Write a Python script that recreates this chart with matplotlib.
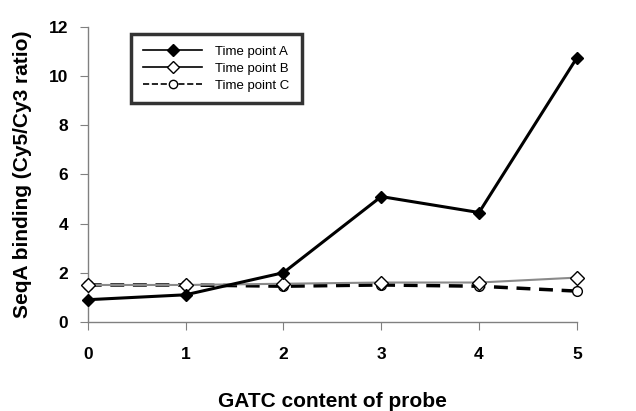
import matplotlib
matplotlib.use('Agg')
import matplotlib.pyplot as plt
from matplotlib.lines import Line2D

plt.rcParams['font.family'] = ['Liberation Sans', 'DejaVu Sans']

# data
gatc = [0, 1, 2, 3, 4, 5]
time_a = [0.9, 1.1, 2.0, 5.1, 4.45, 10.75]
time_b = [1.5, 1.5, 1.55, 1.6, 1.6, 1.8]
time_c = [1.5, 1.5, 1.45, 1.5, 1.45, 1.25]

fig = plt.figure(figsize=(6.36, 4.11), dpi=100)
ax = fig.add_axes([0.138, 0.217, 0.769, 0.717])

ax.plot(gatc, time_a, color='black', lw=2.2, marker='D', ms=6,
        mfc='black', mec='black', label='Time point A', zorder=4, clip_on=False)
ax.plot(gatc, time_b, color='#8a8a8a', lw=1.5, marker='D', ms=7,
        mfc='white', mec='black', mew=1.0, label='Time point B', zorder=3, clip_on=False)
ax.plot(gatc, time_c, color='black', lw=2.5, ls=(0, (4, 2.5)), marker='o', ms=7,
        mfc='white', mec='black', mew=1.0, label='Time point C', zorder=2, clip_on=False)

ax.set_xlim(0, 5)
ax.set_ylim(0, 12)
ax.set_xticks(gatc)
ax.set_yticks(range(0, 13, 2))
for s in ['top', 'right']:
    ax.spines[s].set_visible(False)
for s in ['left', 'bottom']:
    ax.spines[s].set_color('#808080')
    ax.spines[s].set_linewidth(1.0)
ax.tick_params(axis='both', colors='#808080', labelcolor='black', length=6,
               labelsize=12.5, pad=8)
for lab in ax.get_xticklabels() + ax.get_yticklabels():
    lab.set_fontweight('bold')
ax.tick_params(axis='x', pad=12)

ax.set_xlabel('GATC content of probe', fontsize=15, fontweight='bold', labelpad=22)
ax.set_ylabel('SeqA binding (Cy5/Cy3 ratio)', fontsize=15, fontweight='bold', labelpad=12)

# legend with thin lines like the original
handles = [
    Line2D([], [], color='black', lw=1.2, marker='D', ms=6, mfc='black', mec='black'),
    Line2D([], [], color='black', lw=1.2, marker='D', ms=6, mfc='white', mec='black'),
    Line2D([], [], color='black', lw=1.2, ls='--', marker='o', ms=6, mfc='white', mec='black'),
]
leg = ax.legend(handles, ['Time point A', 'Time point B', 'Time point C'],
                loc='upper left', bbox_to_anchor=(0.075, 1.0), fontsize=9.5,
                handlelength=4.5, frameon=True, fancybox=False, borderpad=0.9,
                labelspacing=0.35, handletextpad=1.0)
leg.get_frame().set_edgecolor('black')
leg.get_frame().set_linewidth(2.5)

fig.savefig('out.png', dpi=100)
